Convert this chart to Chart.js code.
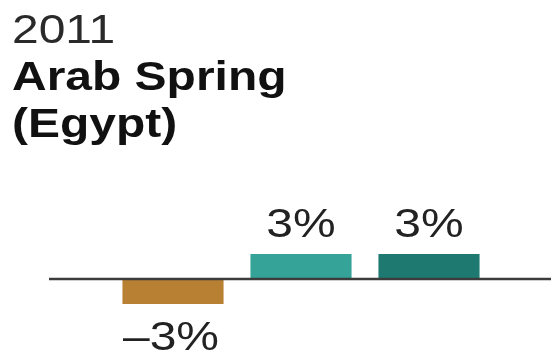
<!DOCTYPE html>
<html>
<head>
<meta charset="utf-8">
<script src="https://cdn.jsdelivr.net/npm/chart.js@4.4.1/dist/chart.umd.min.js"></script>
<style>
  html, body { margin: 0; padding: 0; background: #fff; }
  #wrap { position: relative; width: 551px; height: 353px; overflow: hidden; }
  #chart { position: absolute; left: 0; top: 0; }
  /* the source art is stretched a little sideways */
  .head { position: absolute; left: 12px; top: 6px; font-family: "Liberation Sans", Arial, sans-serif;
          font-size: 41px; line-height: 47px; color: #111; white-space: nowrap;
          transform: scaleX(1.17); transform-origin: 0 0; }
  .head .year { color: #2a2a2a; font-weight: normal; }
  .head .event { font-weight: bold; }
</style>
</head>
<body>
<div id="wrap">
  <canvas id="chart" width="551" height="353"></canvas>
  <div class="head">
    <div class="year">2011</div>
    <div class="event">Arab Spring</div>
    <div class="event">(Egypt)</div>
  </div>
</div>
<script>
// data
var categories  = ['Bar 1', 'Bar 2', 'Bar 3'];
var values      = [-3, 3, 3];
var valueLabels = ['\u20133%', '3%', '3%'];
var barColors   = ['#B88033', '#35A398', '#1E7A70'];

// zero line runs wider than the bars
var zeroLine = {
    id: 'zeroLine',
    afterDatasetsDraw: function(chart) {
        var y = chart.scales.y.getPixelForValue(0);
        var ctx = chart.ctx;
        ctx.save();
        ctx.strokeStyle = '#3c3c3c';
        ctx.lineWidth = 2.5;
        ctx.beginPath();
        ctx.moveTo(49, y);
        ctx.lineTo(chart.width, y);
        ctx.stroke();
        ctx.restore();
    }
};

// value labels above / below each bar
var barLabels = {
    id: 'barLabels',
    afterDraw: function(chart) {
        var ctx = chart.ctx;
        var meta = chart.getDatasetMeta(0);
        meta.data.forEach(function(bar, i) {
            var y = values[i] >= 0 ? bar.y - 17 : bar.y + 46;
            var x = values[i] >= 0 ? bar.x : bar.x - 2;
            ctx.save();
            ctx.translate(x, y);
            ctx.scale(1.17, 1);
            ctx.font = '41px "Liberation Sans", Arial, sans-serif';
            ctx.fillStyle = '#222';
            ctx.textAlign = 'center';
            ctx.textBaseline = 'alphabetic';
            ctx.fillText(valueLabels[i], 0, 0);
            ctx.restore();
        });
    }
};

new Chart(document.getElementById('chart').getContext('2d'), {
    type: 'bar',
    data: {
        labels: categories,
        datasets: [{
            data: values,
            backgroundColor: barColors,
            borderWidth: 0,
            categoryPercentage: 1,
            barPercentage: 0.79
        }]
    },
    options: {
        responsive: false,
        animation: false,
        devicePixelRatio: 1,
        layout: { padding: { left: 109, right: 58, top: 254, bottom: 49 } },
        plugins: {
            legend: { display: false },
            tooltip: { enabled: false }
        },
        scales: {
            x: { display: false },
            y: { display: false, min: -3, max: 3 }
        }
    },
    plugins: [zeroLine, barLabels]
});
</script>
</body>
</html>
